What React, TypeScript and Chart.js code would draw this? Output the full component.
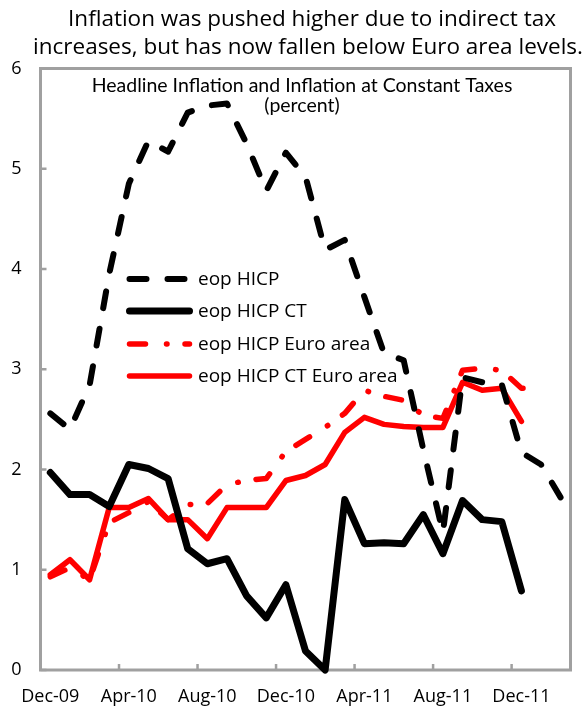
import React, { useEffect, useRef } from "react";
import { Chart, registerables } from "chart.js";

Chart.register(...registerables);

const months = [
  "Dec-09", "Jan-10", "Feb-10", "Mar-10", "Apr-10", "May-10", "Jun-10", "Jul-10", "Aug-10",
  "Sep-10", "Oct-10", "Nov-10", "Dec-10", "Jan-11", "Feb-11", "Mar-11", "Apr-11", "May-11",
  "Jun-11", "Jul-11", "Aug-11", "Sep-11", "Oct-11", "Nov-11", "Dec-11", "Jan-12", "Feb-12",
];
const labelMonths = ["Dec-09", "Apr-10", "Aug-10", "Dec-10", "Apr-11", "Aug-11", "Dec-11"];

const hicp = [2.56, 2.40, 2.84, 3.95, 4.85, 5.28, 5.17, 5.56, 5.63, 5.65, 5.25, 4.78, 5.16, 4.92, 4.19, 4.29, 3.72, 3.16, 3.09, 2.20, 1.37, 2.92, 2.87, 2.85, 2.17, 2.05, 1.72];
const hicpCT = [1.97, 1.75, 1.75, 1.63, 2.05, 2.01, 1.91, 1.21, 1.06, 1.11, 0.74, 0.52, 0.85, 0.19, 0.0, 1.70, 1.26, 1.27, 1.26, 1.55, 1.16, 1.69, 1.50, 1.48, 0.79];
const hicpEA = [0.93, 1.02, 0.90, 1.47, 1.57, 1.68, 1.50, 1.65, 1.66, 1.85, 1.89, 1.91, 2.18, 2.30, 2.42, 2.56, 2.79, 2.73, 2.69, 2.54, 2.51, 2.99, 3.01, 2.99, 2.81, 2.81];
const hicpCTEA = [0.95, 1.10, 0.90, 1.62, 1.62, 1.71, 1.50, 1.50, 1.31, 1.62, 1.62, 1.62, 1.89, 1.94, 2.05, 2.37, 2.52, 2.45, 2.43, 2.42, 2.42, 2.87, 2.79, 2.81, 2.48];

const yTicks = [0, 1, 2, 3, 4, 5, 6];
const seriesNames = ["eop HICP", "eop HICP CT", "eop HICP Euro area", "eop HICP CT Euro area"];
const titleLines = ["Inflation was pushed higher due to indirect tax", "increases, but has now fallen below Euro area levels."];
const subtitleLines = ["Headline Inflation and Inflation at Constant Taxes", "(percent)"];

const FONT = "'Open Sans', 'Noto Sans', sans-serif";
const FRAME = "#A0A0A0";

const series = [
  { name: seriesNames[0], values: hicp, color: "#000000", width: 6, dash: [17, 21] },
  { name: seriesNames[1], values: hicpCT, color: "#000000", width: 7, dash: [] },
  { name: seriesNames[2], values: hicpEA, color: "#FF0000", width: 5.5, dash: [16, 21, 0.5, 18] },
  { name: seriesNames[3], values: hicpCTEA, color: "#FF0000", width: 5.5, dash: [] },
];

const decorPlugin = {
  id: "decor",
  beforeDatasetsDraw(chart: any) {
    const { ctx, chartArea, scales } = chart;
    const { left, right, top, bottom } = chartArea;
    ctx.save();
    ctx.strokeStyle = FRAME;
    ctx.lineWidth = 3;
    ctx.strokeRect(left, top, right - left, bottom - top);
    ctx.lineWidth = 2.5;
    ctx.beginPath();
    for (let k = -0.5; k <= months.length - 0.5; k += 4) {
      const px = scales.x.getPixelForValue(k);
      ctx.moveTo(px, bottom);
      ctx.lineTo(px, bottom - 6);
    }
    for (const v of yTicks) {
      const py = scales.y.getPixelForValue(v);
      ctx.moveTo(left, py);
      ctx.lineTo(left + 6, py);
    }
    ctx.stroke();
    ctx.restore();
  },
  afterDraw(chart: any) {
    const { ctx } = chart;
    ctx.save();
    ctx.fillStyle = "#000";
    ctx.textBaseline = "middle";
    ctx.textAlign = "center";
    ctx.font = `22.5px ${FONT}`;
    ctx.fillText(titleLines[0], 312, 20);
    ctx.fillText(titleLines[1], 308, 48);
    ctx.font = `19.5px Lato, ${FONT}`;
    ctx.fillText(subtitleLines[0], 302, 86);
    ctx.fillText(subtitleLines[1], 302, 106);

    const rows = [279, 311, 344, 376];
    series.forEach((s, i) => {
      ctx.strokeStyle = s.color;
      ctx.lineWidth = s.width;
      ctx.lineCap = "round";
      ctx.setLineDash(s.dash);
      ctx.beginPath();
      ctx.moveTo(129.5, rows[i]);
      ctx.lineTo(189.5, rows[i]);
      ctx.stroke();
      ctx.setLineDash([]);
      ctx.textAlign = "left";
      ctx.font = `19px ${FONT}`;
      ctx.fillText(s.name, 198, rows[i] + 1);
    });
    ctx.restore();
  },
};

export default function App() {
  const ref = useRef<HTMLCanvasElement | null>(null);
  useEffect(() => {
    if (!ref.current) return;
    const chart = new Chart(ref.current, {
      type: "line",
      data: {
        datasets: series.map((s) => ({
          label: s.name,
          data: s.values.map((v, i) => ({ x: i, y: v })),
          borderColor: s.color,
          backgroundColor: s.color,
          borderWidth: s.width,
          borderDash: s.dash,
          borderCapStyle: "round" as const,
          borderJoinStyle: "round" as const,
          pointRadius: 0,
          pointHoverRadius: 0,
          tension: 0,
          fill: false,
          clip: false as any,
        })),
      },
      options: {
        animation: false,
        responsive: true,
        maintainAspectRatio: false,
        events: [],
        layout: { padding: { top: 68.5, right: 16.5, left: 0, bottom: 0 } },
        plugins: { legend: { display: false }, title: { display: false }, tooltip: { enabled: false } },
        scales: {
          x: {
            type: "linear",
            min: -0.5,
            max: months.length - 0.5,
            grid: { display: false, drawTicks: false },
            border: { display: false },
            afterBuildTicks: (scale: any) => {
              scale.ticks = labelMonths.map((m) => ({ value: months.indexOf(m) }));
            },
            afterFit: (scale: any) => {
              scale.height = 45;
            },
            ticks: {
              autoSkip: false,
              maxRotation: 0,
              padding: 16,
              color: "#000",
              font: { size: 18, family: FONT },
              callback: (v: any) => months[Number(v)] ?? "",
            },
          },
          y: {
            type: "linear",
            min: 0,
            max: 6,
            grid: { display: false, drawTicks: false },
            border: { display: false },
            afterFit: (scale: any) => {
              scale.width = 40.5;
            },
            ticks: {
              stepSize: 1,
              padding: 19,
              color: "#000",
              font: { size: 18, family: FONT },
            },
          },
        },
      },
      plugins: [decorPlugin],
    });
    return () => chart.destroy();
  }, []);
  return (
    <div style={{ position: "fixed", left: 0, top: 0, width: 587, height: 715, background: "#fff" }}>
      <canvas ref={ref} />
    </div>
  );
}
